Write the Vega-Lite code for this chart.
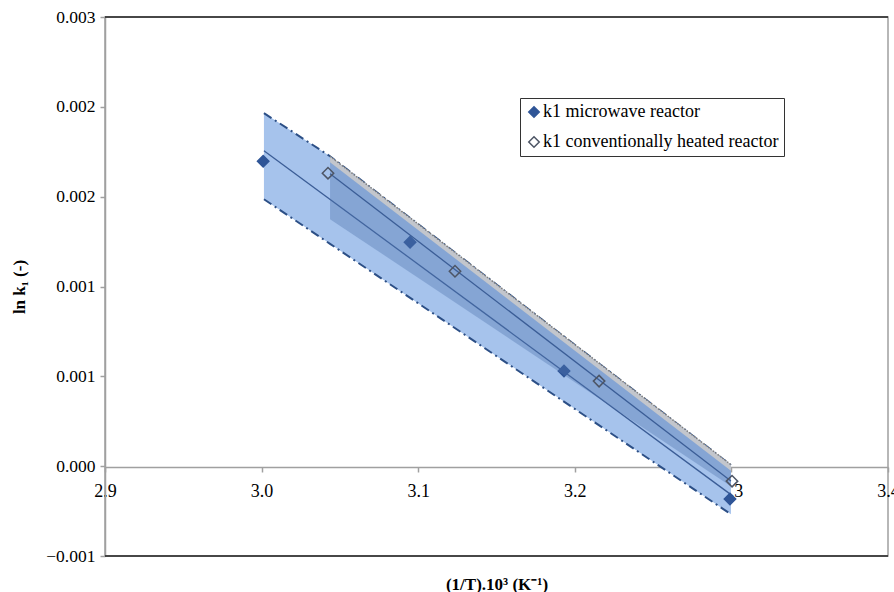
{
  "$schema": "https://vega.github.io/schema/vega-lite/v6.json",
  "width": 783,
  "height": 539,
  "autosize": {"type": "none"},
  "padding": {"left": 105, "top": 17, "right": 6, "bottom": 36},
  "background": "white",
  "config": {
    "view": {"stroke": "#a0a0a0", "strokeWidth": 1.5},
    "font": "Liberation Serif",
    "axis": {"labelFont": "Liberation Serif", "titleFont": "Liberation Serif"},
    "legend": {"labelFont": "Liberation Serif", "labelLimit": 400}
  },
  "datasets": {
    "pts": [
      {"series": "k1 microwave reactor", "x": 3.001, "y": 0.002037},
      {"series": "k1 microwave reactor", "x": 3.0948, "y": 0.001496},
      {"series": "k1 microwave reactor", "x": 3.1931, "y": 0.000635},
      {"series": "k1 microwave reactor", "x": 3.2991, "y": -0.00022},
      {"series": "k1 conventionally heated reactor", "x": 3.0424, "y": 0.001957},
      {"series": "k1 conventionally heated reactor", "x": 3.1235, "y": 0.001302},
      {"series": "k1 conventionally heated reactor", "x": 3.2155, "y": 0.000568},
      {"series": "k1 conventionally heated reactor", "x": 3.3004, "y": -0.0001}
    ],
    "fits": [
      {"series": "microwave", "x": 3.0015, "y": 0.002107},
      {"series": "microwave", "x": 3.2997, "y": -0.00019},
      {"series": "conventional", "x": 3.0437, "y": 0.001953},
      {"series": "conventional", "x": 3.2997, "y": -0.0000995}
    ],
    "bandMW": [
      {"x": 3.0015, "hi": 0.002358, "lo": 0.001783},
      {"x": 3.0437, "hi": 0.00207, "lo": 0.001485},
      {"x": 3.2997, "hi": 0.0000067, "lo": -0.000321}
    ],
    "bandCH": [
      {"x": 3.0437, "hi": 0.00207, "hi2": 0.00203, "lo": 0.00165},
      {"x": 3.2997, "hi": 0.00001, "hi2": -0.00003, "lo": -0.000134}
    ],
    "frame": [
      {"edge": "top", "v": 0.003},
      {"edge": "bottom", "v": -0.0006}
    ]
  },
  "layer": [
    {
      "data": {"name": "bandMW"},
      "mark": {"type": "area", "color": "#a6c3ec", "opacity": 1},
      "encoding": {
        "x": {"field": "x", "type": "quantitative", "scale": {"domain": [2.9, 3.4], "nice": false, "zero": false},
          "axis": {"values": [2.9, 3.0, 3.1, 3.2, 3.3, 3.4], "format": ".1f", "grid": false, "offset": -89, "domainColor": "#a0a0a0", "domainWidth": 1.5, "tickColor": "#a0a0a0", "tickSize": 5, "tickWidth": 1.5, "labelFont": "Liberation Serif", "labelFontSize": 18, "labelColor": "#000", "labelPadding": 10, "labelFlush": false, "labelOverlap": false, "labelBound": false, "title": "(1/T).10³ (K⁻¹)", "titleFont": "Liberation Serif", "titleFontSize": 17, "titleFontWeight": "bold", "titleColor": "#000", "titleY": 117, "titleBaseline": "middle"}},
        "y": {"field": "hi", "type": "quantitative", "scale": {"domain": [-0.0006, 0.003], "nice": false, "zero": false},
          "axis": {"values": [0.003, 0.0024, 0.0018, 0.0012, 0.0006, 0, -0.0006], "format": ".3f", "grid": false, "domainColor": "#a0a0a0", "domainWidth": 1.5, "tickColor": "#a0a0a0", "tickSize": 5, "tickWidth": 1.5, "labelFont": "Liberation Serif", "labelFontSize": 17.5, "labelColor": "#000", "labelPadding": 5, "title": "ln k₁ (-)", "titleFont": "Liberation Serif", "titleFontSize": 17, "titleFontWeight": "bold", "titleColor": "#000", "titleX": -86, "titleBaseline": "middle"}},
        "y2": {"field": "lo"}
      }
    },
    {
      "data": {"name": "bandMW"},
      "mark": {"type": "line", "color": "#2c4f86", "strokeWidth": 2, "strokeDash": [9, 4, 2, 4]},
      "encoding": {
        "x": {"field": "x", "type": "quantitative"},
        "y": {"field": "lo", "type": "quantitative", "title": "ln k₁ (-)"}
      }
    },
    {
      "data": {"name": "bandMW"},
      "mark": {"type": "line", "color": "#2c4f86", "strokeWidth": 2, "strokeDash": [9, 4, 2, 4]},
      "encoding": {
        "x": {"field": "x", "type": "quantitative"},
        "y": {"field": "hi", "type": "quantitative", "title": "ln k₁ (-)"}
      }
    },
    {
      "data": {"name": "fits"},
      "transform": [{"filter": "datum.series === 'microwave'"}],
      "mark": {"type": "line", "color": "#3b5d96", "strokeWidth": 1.3},
      "encoding": {
        "x": {"field": "x", "type": "quantitative"},
        "y": {"field": "y", "type": "quantitative", "title": "ln k₁ (-)"}
      }
    },
    {
      "data": {"name": "pts"},
      "transform": [{"filter": "datum.series === 'k1 microwave reactor'"}],
      "mark": {"type": "point", "shape": "diamond", "filled": true, "size": 130, "strokeWidth": 1.5, "opacity": 1},
      "encoding": {
        "x": {"field": "x", "type": "quantitative"},
        "y": {"field": "y", "type": "quantitative", "title": "ln k₁ (-)"},
        "fill": {"field": "series", "type": "nominal", "title": null,
          "scale": {"domain": ["k1 microwave reactor", "k1 conventionally heated reactor"], "range": ["#2f5597", "transparent"]},
          "legend": {"orient": "none", "legendX": 415, "legendY": 81, "title": null, "strokeColor": "#333", "fillColor": "white", "padding": 5, "labelFont": "Liberation Serif", "labelFontSize": 18, "labelColor": "#000", "labelLimit": 400, "symbolSize": 110, "symbolStrokeWidth": 1.5, "rowPadding": 12, "labelOffset": 0, "cornerRadius": 0}},
        "stroke": {"field": "series", "type": "nominal", "title": null,
          "scale": {"domain": ["k1 microwave reactor", "k1 conventionally heated reactor"], "range": ["#2f5597", "#4d5565"]},
          "legend": {"orient": "none", "legendX": 415, "legendY": 81, "title": null, "strokeColor": "#333", "fillColor": "white", "padding": 5, "labelFont": "Liberation Serif", "labelFontSize": 18, "labelColor": "#000", "labelLimit": 400, "symbolSize": 110, "symbolStrokeWidth": 1.5, "rowPadding": 12, "labelOffset": 0, "cornerRadius": 0}}
      }
    },
    {
      "data": {"name": "bandCH"},
      "mark": {"type": "area", "color": "#4f74ad", "opacity": 0.38},
      "encoding": {
        "x": {"field": "x", "type": "quantitative"},
        "y": {"field": "hi", "type": "quantitative", "title": "ln k₁ (-)"},
        "y2": {"field": "lo"}
      }
    },
    {
      "data": {"name": "bandCH"},
      "mark": {"type": "area", "color": "#c3c6cc", "opacity": 1},
      "encoding": {
        "x": {"field": "x", "type": "quantitative"},
        "y": {"field": "hi", "type": "quantitative", "title": "ln k₁ (-)"},
        "y2": {"field": "hi2"}
      }
    },
    {
      "data": {"name": "bandCH"},
      "mark": {"type": "line", "color": "#7d7d7d", "strokeWidth": 1.5, "strokeDash": [1.5, 1.5]},
      "encoding": {
        "x": {"field": "x", "type": "quantitative"},
        "y": {"field": "hi", "type": "quantitative", "title": "ln k₁ (-)"}
      }
    },
    {
      "data": {"name": "fits"},
      "transform": [{"filter": "datum.series === 'conventional'"}],
      "mark": {"type": "line", "color": "#3b5d96", "strokeWidth": 1.3},
      "encoding": {
        "x": {"field": "x", "type": "quantitative"},
        "y": {"field": "y", "type": "quantitative", "title": "ln k₁ (-)"}
      }
    },
    {
      "data": {"name": "pts"},
      "transform": [{"filter": "datum.series === 'k1 conventionally heated reactor'"}],
      "mark": {"type": "point", "shape": "diamond", "filled": true, "size": 130, "strokeWidth": 1.5, "opacity": 1},
      "encoding": {
        "x": {"field": "x", "type": "quantitative"},
        "y": {"field": "y", "type": "quantitative", "title": "ln k₁ (-)"},
        "fill": {"field": "series", "type": "nominal", "title": null,
          "scale": {"domain": ["k1 microwave reactor", "k1 conventionally heated reactor"], "range": ["#2f5597", "transparent"]},
          "legend": {"orient": "none", "legendX": 415, "legendY": 81, "title": null, "strokeColor": "#333", "fillColor": "white", "padding": 5, "labelFont": "Liberation Serif", "labelFontSize": 18, "labelColor": "#000", "labelLimit": 400, "symbolSize": 110, "symbolStrokeWidth": 1.5, "rowPadding": 12, "labelOffset": 0, "cornerRadius": 0}},
        "stroke": {"field": "series", "type": "nominal", "title": null,
          "scale": {"domain": ["k1 microwave reactor", "k1 conventionally heated reactor"], "range": ["#2f5597", "#4d5565"]},
          "legend": {"orient": "none", "legendX": 415, "legendY": 81, "title": null, "strokeColor": "#333", "fillColor": "white", "padding": 5, "labelFont": "Liberation Serif", "labelFontSize": 18, "labelColor": "#000", "labelLimit": 400, "symbolSize": 110, "symbolStrokeWidth": 1.5, "rowPadding": 12, "labelOffset": 0, "cornerRadius": 0}}
      }
    },
    {
      "data": {"name": "frame"},
      "mark": {"type": "rule", "color": "#222", "strokeWidth": 1.5},
      "encoding": {
        "y": {"field": "v", "type": "quantitative", "title": "ln k₁ (-)"}
      }
    }
  ]
}
